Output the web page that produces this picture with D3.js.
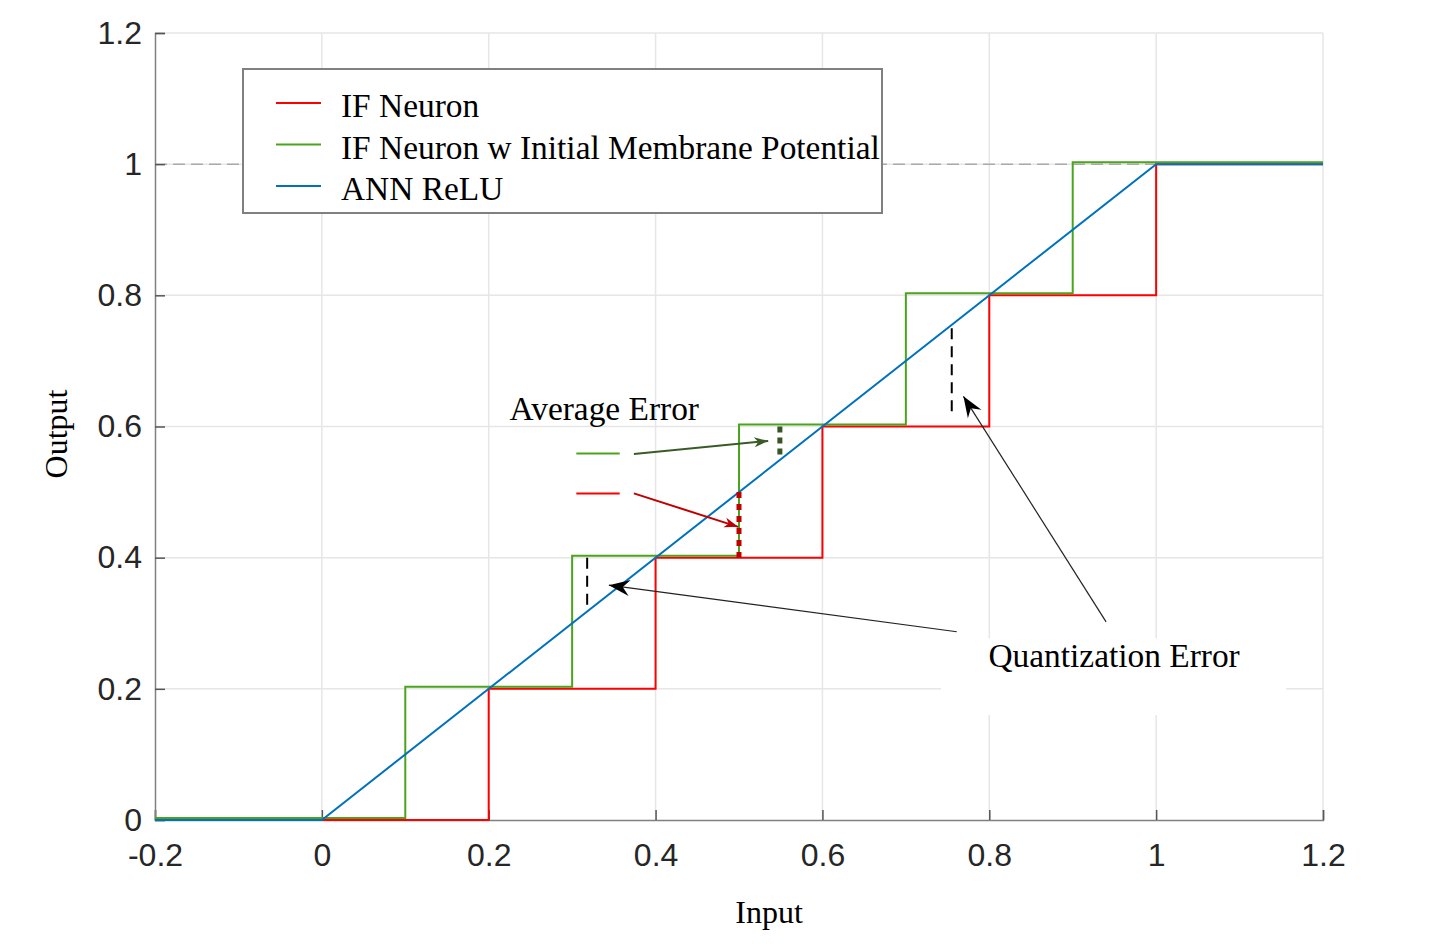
<!DOCTYPE html>
<html>
<head>
<meta charset="utf-8">
<script src="https://cdn.jsdelivr.net/npm/d3@7"></script>
<style>
  body { margin: 0; background: #fff; }
  svg { display: block; }
</style>
</head>
<body>
<svg width="1438" height="948"></svg>
<script>
// series
const reluX = [-0.2, 0, 1, 1.2]
const reluY = [0, 0, 1, 1]

const ifX = [-0.2, 0.2, 0.4, 0.6, 0.8, 1.0, 1.2]
const ifY = [0, 0.2, 0.4, 0.6, 0.8, 1.0, 1.0]

// IF neuron w initial membrane potential (drawn a hair above the red one)
const imX = [-0.2, 0.1, 0.3, 0.5, 0.7, 0.9, 1.2]
const imY = [0.003, 0.203, 0.403, 0.603, 0.803, 1.003, 1.003]

const xTicks = [-0.2, 0, 0.2, 0.4, 0.6, 0.8, 1, 1.2]
const yTicks = [0, 0.2, 0.4, 0.6, 0.8, 1, 1.2]

const legendNames = ["IF Neuron", "IF Neuron w Initial Membrane Potential", "ANN ReLU"]
const colors = ["#ff0000", "#4aa41c", "#0072bd"]

var svg = d3.select("svg")
const font = "'Liberation Serif', 'Times New Roman', serif"

let x = d3.scaleLinear().domain([-0.2, 1.2]).range([155, 1323])
let y = d3.scaleLinear().domain([0, 1.2]).range([820, 33])

// grid
svg.append("g").selectAll("line")
  .data(xTicks.slice(1)).enter().append("line")
    .attr("x1", d => x(d)).attr("x2", d => x(d))
    .attr("y1", y(0)).attr("y2", y(1.2))
    .attr("stroke", "#e6e6e6").attr("stroke-width", 1.5)
svg.append("g").selectAll("line")
  .data(yTicks.slice(1)).enter().append("line")
    .attr("x1", x(-0.2)).attr("x2", x(1.2))
    .attr("y1", d => y(d)).attr("y2", d => y(d))
    .attr("stroke", "#e6e6e6").attr("stroke-width", 1.5)

// dashed reference at 1
svg.append("line")
  .attr("x1", x(-0.2)).attr("x2", x(1))
  .attr("y1", y(1)).attr("y2", y(1))
  .attr("stroke", "#aaaaaa").attr("stroke-width", 1.5)
  .attr("stroke-dasharray", "12,6")

// white patch behind the quantization label
svg.append("rect")
  .attr("x", x(0.742)).attr("y", y(0.277))
  .attr("width", x(1.156) - x(0.742)).attr("height", y(0.16) - y(0.277))
  .attr("fill", "#fff")

// axes
let fmt = d => String(+d.toFixed(1))
let xAxis = svg.append("g")
  .attr("transform", "translate(0," + y(0) + ")")
  .call(d3.axisBottom(x).tickValues(xTicks).tickSize(-10).tickPadding(23).tickFormat(fmt))
let yAxis = svg.append("g")
  .attr("transform", "translate(" + x(-0.2) + ",0)")
  .call(d3.axisLeft(y).tickValues(yTicks).tickSize(-10).tickPadding(13).tickFormat(fmt))

;[xAxis, yAxis].forEach(function(g){
  g.select(".domain").attr("stroke", "#808080").attr("stroke-width", 1.5)
  g.selectAll(".tick line").attr("stroke", "#555").attr("stroke-width", 1.5)
  g.selectAll(".tick text")
    .attr("fill", "#262626")
    .style("font-family", "'Liberation Sans', Arial, sans-serif")
    .style("font-size", "32px")
})

// series
let line = d3.line().x(d => x(d[0])).y(d => y(d[1]))
let step = d3.line().curve(d3.curveStepAfter).x(d => x(d[0])).y(d => y(d[1]))

svg.append("path")
  .attr("d", step(d3.zip(ifX, ifY)))
  .attr("fill", "none").attr("stroke", colors[0]).attr("stroke-width", 2)
svg.append("path")
  .attr("d", step(d3.zip(imX, imY)))
  .attr("fill", "none").attr("stroke", colors[1]).attr("stroke-width", 2)
svg.append("path")
  .attr("d", line(d3.zip(reluX, reluY)))
  .attr("fill", "none").attr("stroke", colors[2]).attr("stroke-width", 2)

// legend
let lg = svg.append("g")
lg.append("rect")
  .attr("x", 243).attr("y", 69).attr("width", 639).attr("height", 144)
  .attr("fill", "#fff").attr("stroke", "#808080").attr("stroke-width", 2)
legendNames.forEach(function(name, i){
  let ly = 103 + i * 41.5
  lg.append("line")
    .attr("x1", 276).attr("x2", 321).attr("y1", ly).attr("y2", ly)
    .attr("stroke", colors[i]).attr("stroke-width", 2)
  lg.append("text")
    .attr("x", 341).attr("y", ly + 14)
    .style("font-family", font).style("font-size", "33.4px")
    .text(name)
})

// arrow markers
let defs = svg.append("defs")
function marker(id, color, path) {
  defs.append("marker")
    .attr("id", id)
    .attr("viewBox", "-25 -12 30 24")
    .attr("refX", 0).attr("refY", 0)
    .attr("markerWidth", 30).attr("markerHeight", 24)
    .attr("markerUnits", "userSpaceOnUse")
    .attr("orient", "auto")
    .append("path").attr("d", path).attr("fill", color)
}
marker("blackHead", "#000", "M0,0L-21,-8L-14,0L-21,8Z")
marker("greenHead", "#3a5a27", "M0,0L-14,-5L-10,0L-14,5Z")
marker("redHead", "#c00000", "M0,0L-14,-5L-10,0L-14,5Z")

// quantization error annotations
const quantDash = [[0.318, 0.4, 0.318], [0.755, 0.75, 0.613]]
svg.append("g").selectAll("line")
  .data(quantDash).enter().append("line")
    .attr("x1", d => x(d[0])).attr("x2", d => x(d[0]))
    .attr("y1", d => y(d[1])).attr("y2", d => y(d[2]))
    .attr("stroke", "#000").attr("stroke-width", 2)
    .attr("stroke-dasharray", "11,7")

const quantArrows = [[0.761, 0.287, 0.344, 0.358], [0.94, 0.302, 0.769, 0.646]]
svg.append("g").selectAll("line")
  .data(quantArrows).enter().append("line")
    .attr("x1", d => x(d[0])).attr("y1", d => y(d[1]))
    .attr("x2", d => x(d[2])).attr("y2", d => y(d[3]))
    .attr("stroke", "#222").attr("stroke-width", 1.2)
    .attr("marker-end", "url(#blackHead)")

svg.append("text")
  .attr("x", x(0.799)).attr("y", y(0.233))
  .style("font-family", font).style("font-size", "33.4px")
  .text("Quantization Error")

// average error annotations
svg.append("text")
  .attr("x", x(0.225)).attr("y", y(0.61))
  .style("font-family", font).style("font-size", "33.4px")
  .text("Average Error")

svg.append("line")
  .attr("x1", x(0.305)).attr("x2", x(0.357)).attr("y1", y(0.559)).attr("y2", y(0.559))
  .attr("stroke", colors[1]).attr("stroke-width", 2)
svg.append("line")
  .attr("x1", x(0.305)).attr("x2", x(0.357)).attr("y1", y(0.498)).attr("y2", y(0.498))
  .attr("stroke", colors[0]).attr("stroke-width", 2)

svg.append("line")
  .attr("x1", x(0.374)).attr("y1", y(0.558)).attr("x2", x(0.535)).attr("y2", y(0.578))
  .attr("stroke", "#3a5a27").attr("stroke-width", 2)
  .attr("marker-end", "url(#greenHead)")
svg.append("line")
  .attr("x1", x(0.374)).attr("y1", y(0.498)).attr("x2", x(0.499)).attr("y2", y(0.447))
  .attr("stroke", "#c00000").attr("stroke-width", 2)
  .attr("marker-end", "url(#redHead)")

svg.append("line")
  .attr("x1", x(0.549)).attr("x2", x(0.549)).attr("y1", y(0.6)).attr("y2", y(0.55))
  .attr("stroke", "#375623").attr("stroke-width", 5)
  .attr("stroke-dasharray", "6,5")
svg.append("line")
  .attr("x1", x(0.5)).attr("x2", x(0.5)).attr("y1", y(0.5)).attr("y2", y(0.4))
  .attr("stroke", "#c00000").attr("stroke-width", 5)
  .attr("stroke-dasharray", "6,6")

// axis labels
svg.append("text")
  .attr("x", 769).attr("y", 923).attr("text-anchor", "middle")
  .style("font-family", font).style("font-size", "32px")
  .text("Input")
svg.append("text")
  .attr("transform", "translate(67,434) rotate(-90)")
  .attr("text-anchor", "middle")
  .style("font-family", font).style("font-size", "32px")
  .text("Output")
</script>
</body>
</html>
